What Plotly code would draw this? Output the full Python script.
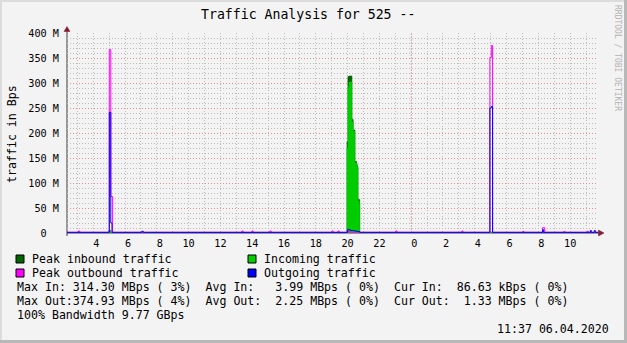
import plotly.graph_objects as go

# ---------------- data: time in hours since 00:00 of day 1, values in MBps ----------------
X_START, X_END = 2.35, 35.75

# Peak inbound traffic (dark green area)
peak_in_t = [2.35, 4.98, 5.10, 19.96, 20.02, 20.09, 20.27, 20.35, 20.46, 20.53, 20.57, 20.61, 20.65, 20.72, 20.76, 28.97, 29.05, 35.75]
peak_in_v = [0.5, 5.0, 0.5, 183, 313, 314, 227, 206, 143, 143, 137, 133, 67, 67, 0.5, 2.0, 0.5, 0.5]

# Incoming traffic (bright green area)
in_t = [2.35, 4.98, 5.10, 19.96, 20.02, 20.09, 20.27, 20.35, 20.46, 20.53, 20.57, 20.61, 20.65, 20.72, 20.76, 28.97, 29.05, 35.75]
in_v = [0.09, 3.0, 0.09, 170, 292, 302, 222, 203, 140, 140, 135, 131, 64, 58, 0.09, 1.5, 0.09, 0.09]

# Peak outbound traffic (magenta line)
peak_out_t = [2.35, 3.07, 3.15, 5.01, 5.105, 5.22, 13.35, 13.43, 13.98, 14.06, 15.11, 15.19,
              19.01, 19.09, 19.39, 19.47, 19.96, 20.09, 23.03, 23.11, 27.18, 27.26,
              28.95, 29.04, 29.12, 31.02, 31.10, 32.27, 32.40, 33.60, 33.68, 35.07, 35.16, 35.75]
peak_out_v = [1.5, 4, 1.5, 367, 73, 1.5, 4, 1.5, 4, 1.5, 4, 1.5,
              4, 1.5, 4, 1.5, 5, 1.5, 4, 1.5, 4, 1.5,
              351, 375, 1.5, 3, 1.5, 10.6, 1.5, 3, 1.5, 3.5, 1.5, 1.5]

# Outgoing traffic (blue line)
out_t = [2.35, 5.01, 5.105, 5.18, 7.05, 7.15, 20.00, 20.15, 20.40, 20.60, 20.76,
         28.95, 29.04, 29.12, 32.27, 32.33, 35.27, 35.33, 35.52, 35.58, 35.75]
out_v = [1.3, 241, 20, 1.3, 3.4, 1.3, 7, 5, 4, 3, 1.3,
         250, 253, 1.3, 6.6, 1.3, 5, 1.3, 5, 1.3, 1.3]

x_tick_vals = [4, 6, 8, 10, 12, 14, 16, 18, 20, 22, 24, 26, 28, 30, 32, 34]
x_tick_text = [" 4", " 6", " 8", "10", "12", "14", "16", "18", "20", "22", " 0", " 2", " 4", " 6", " 8", "10"]
y_tick_vals = [0, 50, 100, 150, 200, 250, 300, 350, 400]
y_tick_text = ["0  ", "50 M", "100 M", "150 M", "200 M", "250 M", "300 M", "350 M", "400 M"]

legend_rows = [
    "Max In: 314.30 MBps ( 3%)  Avg In:   3.99 MBps ( 0%)  Cur In:  86.63 kBps ( 0%)",
    "Max Out:374.93 MBps ( 4%)  Avg Out:  2.25 MBps ( 0%)  Cur Out:  1.33 MBps ( 0%)",
    "100% Bandwidth 9.77 GBps",
]

# ---------------- styling ----------------
W, H = 627, 343
L, R, T, B = 67, 29, 33, 110
PW, PH = W - L - R, H - T - B
FONT = "DejaVu Sans Mono"
BG = "#F3F3F3"
GRID = "rgb(188,188,188)"
MGRID = "rgb(222,145,145)"
DOTS = "1px,2px"


def nb(s):
    return s.replace(" ", "\u00a0")


def PX(x):
    return (x - L) / PW


def PY(y):
    return (T + PH - y) / PH


fig = go.Figure()
fig.add_trace(go.Scatter(x=peak_in_t, y=peak_in_v, mode="lines",
                         line=dict(shape="hv", width=0.6, color="#006600"),
                         fill="tozeroy", fillcolor="#006600", hoverinfo="skip"))
fig.add_trace(go.Scatter(x=in_t, y=in_v, mode="lines",
                         line=dict(shape="hv", width=0.6, color="#00CC00"),
                         fill="tozeroy", fillcolor="#00CC00", hoverinfo="skip"))
fig.add_trace(go.Scatter(x=peak_out_t, y=peak_out_v, mode="lines",
                         line=dict(shape="hv", width=1, color="#FF00FF"), hoverinfo="skip"))
fig.add_trace(go.Scatter(x=out_t, y=out_v, mode="lines",
                         line=dict(shape="hv", width=1, color="#0000FF"), hoverinfo="skip"))

fig.update_xaxes(range=[X_START, X_END], tickmode="array", tickvals=x_tick_vals,
                 ticktext=[nb(t) for t in x_tick_text],
                 showgrid=True, gridcolor=GRID, griddash=DOTS, gridwidth=1,
                 minor=dict(dtick=1, tick0=0, showgrid=True, gridcolor=GRID, griddash=DOTS, gridwidth=1),
                 showline=False, zeroline=False, ticks="", ticklabelstandoff=3,
                 tickfont=dict(family=FONT, size=10.2, color="black"), fixedrange=True)
fig.update_yaxes(range=[0, 400], tickmode="array", tickvals=y_tick_vals,
                 ticktext=[nb(t) for t in y_tick_text],
                 showgrid=True, gridcolor=MGRID, griddash=DOTS, gridwidth=1,
                 minor=dict(dtick=10, tick0=0, showgrid=True, gridcolor=GRID, griddash=DOTS, gridwidth=1),
                 showline=False, zeroline=False, ticks="", ticklabelstandoff=7,
                 tickfont=dict(family=FONT, size=10.2, color="black"), fixedrange=True)

shapes = []
# midnight major grid line
shapes.append(dict(type="line", xref="x", yref="paper", x0=24, x1=24, y0=0, y1=1,
                   line=dict(color=MGRID, width=1, dash=DOTS), layer="between"))
# axes
AX = "#3A3A3A"
shapes.append(dict(type="line", xref="paper", yref="paper", x0=PX(67), x1=PX(67), y0=PY(236), y1=PY(31),
                   line=dict(color=AX, width=1), layer="between"))
shapes.append(dict(type="line", xref="paper", yref="paper", x0=PX(67), x1=PX(599), y0=PY(233), y1=PY(233),
                   line=dict(color=AX, width=1), layer="between"))
ARROW = "#7F1F2F"
shapes.append(dict(type="path", xref="paper", yref="paper",
                   path=f"M {PX(67)},{PY(26.5)} L {PX(64)},{PY(31.5)} L {PX(70)},{PY(31.5)} Z",
                   fillcolor=ARROW, line=dict(color=ARROW, width=0.5)))
shapes.append(dict(type="path", xref="paper", yref="paper",
                   path=f"M {PX(604)},{PY(233)} L {PX(598.5)},{PY(230)} L {PX(598.5)},{PY(236)} Z",
                   fillcolor=ARROW, line=dict(color=ARROW, width=0.5)))
# legend squares
for (x0, y0, col) in [(16, 255, "#006600"), (248, 255, "#00CC00"), (16, 269, "#FF00FF"), (248, 269, "#0000FF")]:
    shapes.append(dict(type="rect", xref="paper", yref="paper", x0=PX(x0), x1=PX(x0 + 8),
                       y0=PY(y0), y1=PY(y0 + 8), fillcolor=col, line=dict(color="black", width=1)))
# outer 3D border
shapes.append(dict(type="rect", xref="paper", yref="paper", x0=PX(0), x1=PX(627), y0=PY(0), y1=PY(2),
                   fillcolor="#DCDCDC", line=dict(width=0)))
shapes.append(dict(type="rect", xref="paper", yref="paper", x0=PX(0), x1=PX(2), y0=PY(0), y1=PY(343),
                   fillcolor="#DCDCDC", line=dict(width=0)))
shapes.append(dict(type="rect", xref="paper", yref="paper", x0=PX(624), x1=PX(627), y0=PY(0), y1=PY(343),
                   fillcolor="#B8B8B8", line=dict(width=0)))
shapes.append(dict(type="rect", xref="paper", yref="paper", x0=PX(0), x1=PX(627), y0=PY(340), y1=PY(343),
                   fillcolor="#B8B8B8", line=dict(width=0)))

ann = []


def text(x, y, s, size, xanchor="left", angle=0, color="black"):
    ann.append(dict(xref="paper", yref="paper", x=PX(x), y=PY(y), text=nb(s), showarrow=False,
                    xanchor=xanchor, yanchor="middle", textangle=angle, borderpad=0,
                    font=dict(family=FONT, size=size, color=color)))


text(308, 14, "Traffic Analysis for 525 --", 13.2, xanchor="center")
text(12, 134, "traffic in Bps", 11.6, xanchor="center", angle=-90)
text(618, 58, "RRDTOOL / TOBI OETIKER", 8, xanchor="center", angle=90, color="#B4B4B4")
text(31, 259, "Peak inbound traffic", 11.6)
text(263, 259, "Incoming traffic", 11.6)
text(31, 273, "Peak outbound traffic", 11.6)
text(263, 273, "Outgoing traffic", 11.6)
for i, row in enumerate(legend_rows):
    text(16, 287 + 14 * i, row, 11.6)
text(610, 329, "11:37 06.04.2020", 11.6, xanchor="right")

fig.update_layout(width=W, height=H, margin=dict(l=L, r=R, t=T, b=B, pad=0),
                  paper_bgcolor=BG, plot_bgcolor=BG, showlegend=False,
                  shapes=shapes, annotations=ann)

fig.write_html("out.html")
